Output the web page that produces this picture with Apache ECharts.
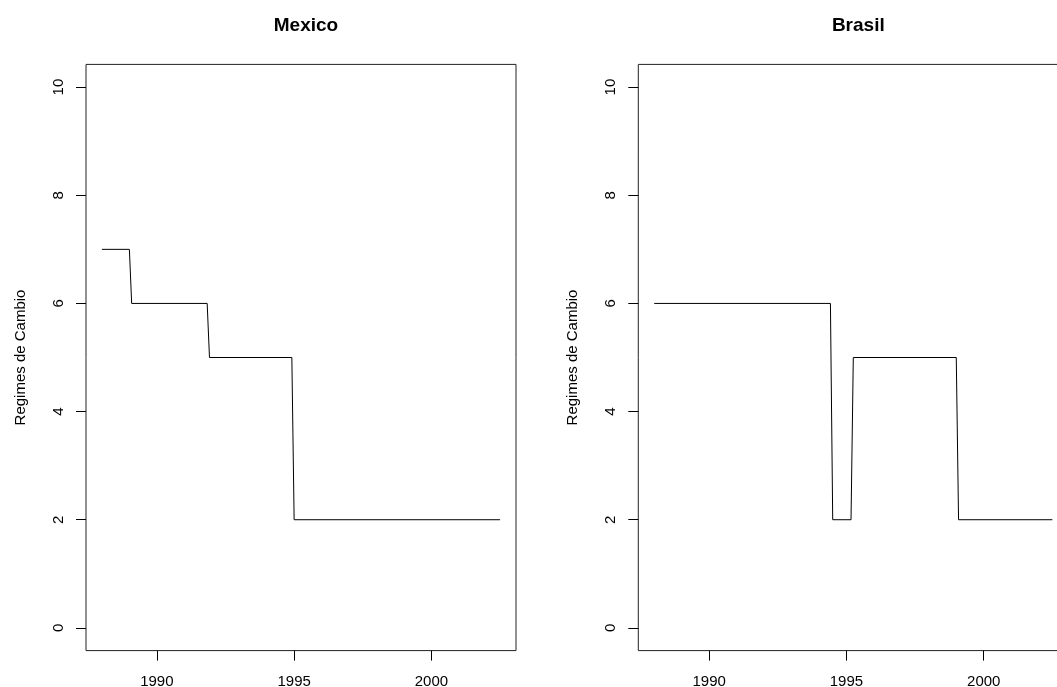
<!DOCTYPE html>
<html>
<head>
<meta charset="utf-8">
<script src="https://cdn.jsdelivr.net/npm/echarts@6/dist/echarts.min.js"></script>
<style>
html,body{margin:0;padding:0;background:#fff;}
#chart{width:1057px;height:687px;}
</style>
</head>
<body>
<div id="chart"></div>
<script>
// Data (step vertices of the monthly regime series)
const panelTitles = ["Mexico", "Brasil"];
const yAxisTitle = "Regimes de Cambio";
const mexicoYears = [1988.0, 1989.0, 1989.083, 1991.833, 1991.917, 1994.917, 1995.0, 2002.5];
const mexicoValues = [7, 7, 6, 6, 5, 5, 2, 2];
const brasilYears = [1988.0, 1994.417, 1994.5, 1995.167, 1995.25, 1999.0, 1999.083, 2002.5];
const brasilValues = [6, 6, 2, 2, 5, 5, 2, 2];
const xTicks = [1990, 1995, 2000];
const yTicks = [0, 2, 4, 6, 8, 10];

const FONT = "'Liberation Sans', Arial, Helvetica, sans-serif";
const pair = (xs, ys) => xs.map((x, i) => [x, ys[i]]);

const grids = [
  {left: 86, top: 64.4, width: 430, height: 586.2},
  {left: 638.3, top: 64.4, width: 430, height: 586.2}
];
const centers = [grids[0].left + grids[0].width / 2, grids[1].left + grids[1].width / 2];

const chart = echarts.init(document.getElementById('chart'), null, {renderer: 'canvas'});

const mkX = (gi) => ({
  type: 'value', gridIndex: gi, min: 1987.42, max: 2003.08, position: 'bottom',
  splitLine: {show: false},
  axisLine: {show: false, onZero: false},
  axisTick: {show: true, inside: false, length: 10, customValues: xTicks, lineStyle: {color: '#000', width: 1}},
  axisLabel: {show: true, customValues: xTicks, color: '#000', fontSize: 15, fontFamily: FONT, margin: 24,
    formatter: v => String(Math.round(v))}
});
const mkY = (gi) => ({
  type: 'value', gridIndex: gi, min: -0.42, max: 10.42, position: 'left',
  name: yAxisTitle, nameLocation: 'middle', nameGap: 58,
  nameTextStyle: {color: '#000', fontSize: 15, fontFamily: FONT},
  splitLine: {show: false},
  axisLine: {show: false, onZero: false},
  axisTick: {show: true, inside: false, length: 10, customValues: yTicks, lineStyle: {color: '#000', width: 1}},
  axisLabel: {show: true, customValues: yTicks, rotate: 90, color: '#000', fontSize: 15, fontFamily: FONT, margin: 20,
    formatter: v => String(Math.round(v))}
});

chart.setOption({
  animation: false,
  backgroundColor: '#fff',
  title: panelTitles.map((t, i) => ({
    text: t, left: centers[i], top: 11, textAlign: 'center',
    textStyle: {fontSize: 19, fontWeight: 'bold', color: '#000', fontFamily: FONT}
  })),
  grid: grids.map(g => Object.assign({show: true, borderColor: '#222', borderWidth: 1, backgroundColor: 'transparent',
    containLabel: false, outerBoundsMode: 'none'}, g)),
  xAxis: [mkX(0), mkX(1)],
  yAxis: [mkY(0), mkY(1)],
  series: [
    {type: 'line', xAxisIndex: 0, yAxisIndex: 0, data: pair(mexicoYears, mexicoValues), showSymbol: false, symbol: 'none',
      lineStyle: {color: '#000', width: 1}},
    {type: 'line', xAxisIndex: 1, yAxisIndex: 1, data: pair(brasilYears, brasilValues), showSymbol: false, symbol: 'none',
      lineStyle: {color: '#000', width: 1}}
  ]
});
</script>
</body>
</html>
